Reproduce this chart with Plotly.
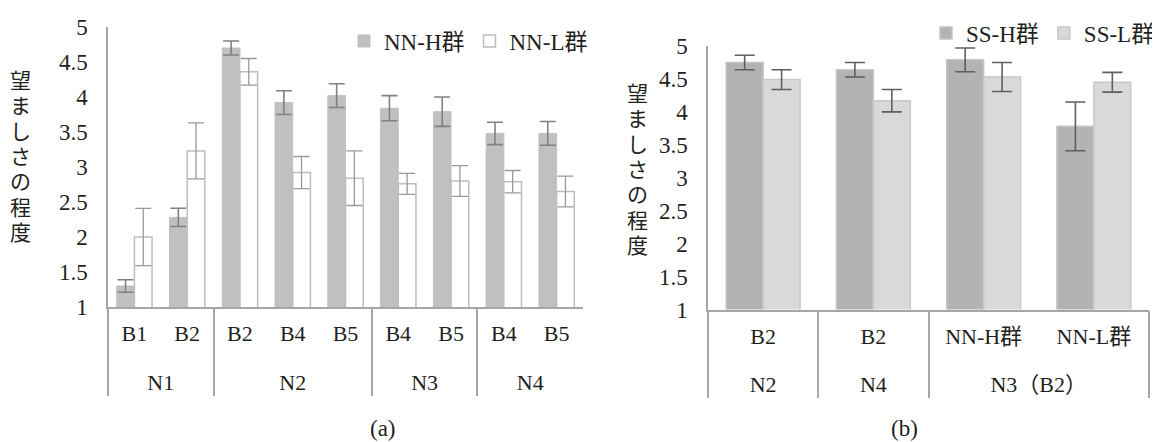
import plotly.graph_objects as go

# ---------------- data ----------------
# (a)
a_outer = ["N1", "N1", "N2", "N2", "N2", "N3", "N3", "N4", "N4"]
a_inner = ["B1", "B2", "B2", "B4", "B5", "B4", "B5", "B4", "B5"]
nnh_vals = [1.30, 2.28, 4.70, 3.92, 4.02, 3.84, 3.79, 3.48, 3.48]
nnh_err = [0.09, 0.13, 0.10, 0.17, 0.17, 0.18, 0.21, 0.16, 0.17]
nnl_vals = [2.00, 3.23, 4.36, 2.92, 2.84, 2.76, 2.80, 2.79, 2.65]
nnl_err = [0.41, 0.40, 0.19, 0.23, 0.39, 0.15, 0.22, 0.16, 0.22]

# (b)
b_outer = ["N2", "N4", "N3（B2）", "N3（B2）"]
b_inner = ["B2", "B2", "NN-H群", "NN-L群"]
ssh_vals = [4.75, 4.64, 4.79, 3.78]
ssh_err = [0.11, 0.11, 0.18, 0.37]
ssl_vals = [4.49, 4.17, 4.53, 4.45]
ssl_err = [0.15, 0.17, 0.22, 0.15]

y_title = "望ましさの程度"
captions = ["(a)", "(b)"]

# ---------------- style ----------------
PAGE_W, PAGE_H = 1160, 442
BODY = 8                      # default page margin around the plot div
W, H = PAGE_W - BODY, PAGE_H - BODY


def fx(px):
    return (px - BODY) / W


def fy(py):
    return 1 - (py - BODY) / H


FONT = "Liberation Serif, Noto Sans CJK JP, serif"
TXT = "#231f20"
AXC = "#a6a6a6"
FS_TICK = 23
FS_X = 22
FS_LEG = 23
FS_TITLE = 21

# inner labels get an extra blank line so the outer level sits lower
SPACER = "<br><span style='font-size:17px'>&nbsp;</span>"
a_inner_disp = [s + SPACER for s in a_inner]
b_inner_disp = [s + SPACER for s in b_inner]

fig = go.Figure()

fig.add_trace(go.Bar(
    x=[a_outer, a_inner_disp], y=nnh_vals, name="NN-H群",
    marker=dict(color="#c0c0c0", line=dict(color="#c0c0c0", width=1)),
    error_y=dict(type="data", array=nnh_err, color="#808080", thickness=1.6, width=8),
    xaxis="x", yaxis="y", legend="legend",
))
fig.add_trace(go.Bar(
    x=[a_outer, a_inner_disp], y=nnl_vals, name="NN-L群",
    marker=dict(color="#ffffff", line=dict(color="#bdbdbd", width=1.5)),
    error_y=dict(type="data", array=nnl_err, color="#9a9a9a", thickness=1.3, width=8),
    xaxis="x", yaxis="y", legend="legend",
))
fig.add_trace(go.Bar(
    x=[b_outer, b_inner_disp], y=ssh_vals, name="SS-H群",
    marker=dict(color="#b3b3b3", line=dict(color="#c4c4c4", width=1.5)),
    error_y=dict(type="data", array=ssh_err, color="#5f5f5f", thickness=1.6, width=10),
    xaxis="x2", yaxis="y2", legend="legend2",
))
fig.add_trace(go.Bar(
    x=[b_outer, b_inner_disp], y=ssl_vals, name="SS-L群",
    marker=dict(color="#d9d9d9", line=dict(color="#c8c8c8", width=1.5)),
    error_y=dict(type="data", array=ssl_err, color="#5f5f5f", thickness=1.6, width=10),
    xaxis="x2", yaxis="y2", legend="legend2",
))

xa_common = dict(
    type="multicategory", showline=True, linecolor=AXC, linewidth=1.5,
    showdividers=True, dividercolor=AXC, dividerwidth=1.5,
    tickfont=dict(family=FONT, size=FS_X, color=TXT), ticks="",
    ticklabelstandoff=6, automargin=False,
    showgrid=False, zeroline=False, fixedrange=True,
)
ya_common = dict(
    range=[1, 5], dtick=0.5, tick0=1, showline=True, linecolor=AXC, linewidth=1.5,
    showgrid=False, zeroline=False, ticks="", ticklabelstandoff=14, automargin=False,
    tickfont=dict(family=FONT, size=FS_TICK, color=TXT), fixedrange=True,
)

leg_common = dict(orientation="h", xanchor="left", yanchor="middle",
                  font=dict(family=FONT, size=FS_LEG, color=TXT), bgcolor="rgba(0,0,0,0)",
                  itemclick=False, itemdoubleclick=False, tracegroupgap=0, itemwidth=30)

fig.update_layout(
    width=W, height=H,
    margin=dict(l=0, r=0, t=0, b=0, pad=0, autoexpand=False),
    paper_bgcolor="white", plot_bgcolor="white",
    barmode="group", bargap=0.33, bargroupgap=0.0,
    font=dict(family=FONT, size=FS_X, color=TXT),
    xaxis=dict(domain=[fx(108), fx(583)], anchor="y", **xa_common),
    yaxis=dict(domain=[fy(307), fy(27)], anchor="x", **ya_common),
    xaxis2=dict(domain=[fx(708), fx(1149)], anchor="y2", **xa_common),
    yaxis2=dict(domain=[fy(309.5), fy(46)], anchor="x2", **ya_common),
    legend=dict(x=fx(344), y=fy(41), **leg_common),
    legend2=dict(x=fx(926), y=fy(33), **leg_common),
    showlegend=True,
)

# vertical (upright, stacked) axis titles
chars = list(y_title)
step = 25.4
for xc, yc in [(20, 157), (637, 170)]:
    y0 = yc - step * (len(chars) - 1) / 2
    for i, ch in enumerate(chars):
        fig.add_annotation(text=ch, x=fx(xc), y=fy(y0 + i * step),
                           xref="paper", yref="paper", xanchor="center", yanchor="middle",
                           showarrow=False, font=dict(family=FONT, size=FS_TITLE, color=TXT))

for cap, xc in zip(captions, [383, 904]):
    fig.add_annotation(text=cap, x=fx(xc), y=fy(428), xref="paper", yref="paper",
                       xanchor="center", yanchor="middle", showarrow=False,
                       font=dict(family=FONT, size=FS_TICK, color=TXT))

fig.write_html("out.html")
